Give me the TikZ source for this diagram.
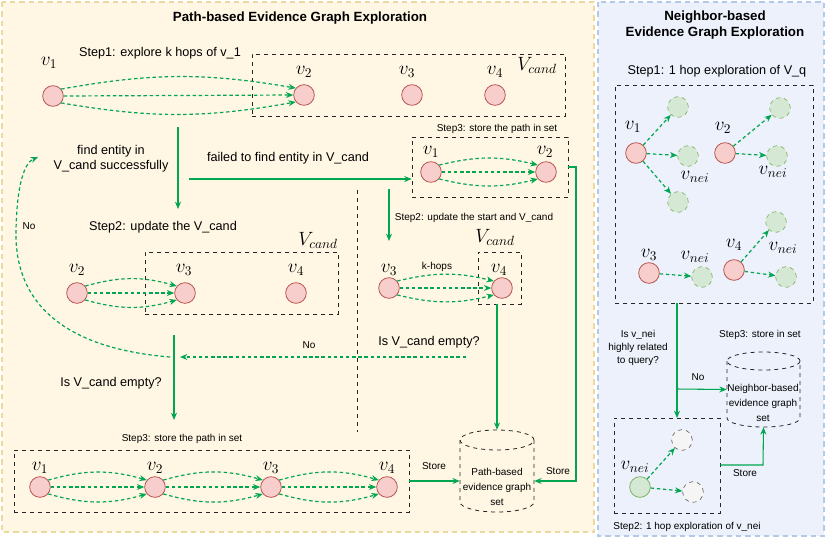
\documentclass[tikz,border=0pt]{standalone}
\usepackage{fontspec}
\setmainfont{Liberation Sans}
\usetikzlibrary{arrows.meta,fit}
\definecolor{gr}{HTML}{00A650}
\definecolor{redfill}{HTML}{F8CECC}
\definecolor{redline}{HTML}{B85450}
\definecolor{grfill}{HTML}{D5E8D4}
\definecolor{grline}{HTML}{82B366}
\definecolor{yfill}{HTML}{FFF7E3}
\definecolor{yline}{HTML}{EAD9A0}
\definecolor{bfill}{HTML}{ECF1FB}
\definecolor{bline}{HTML}{B4C8E8}
\newcommand\threearr[3]{%
  \draw[gdarr] (#1.40) to[bend left=#3] (#2.140);
  \draw[gdarr] (#1.east) -- (#2.west);
  \draw[gdarr] (#1.-40) to[bend right=#3] (#2.-140);}
\begin{document}
\begin{tikzpicture}[x=0.75pt,y=-0.75pt,
  rnode/.style={circle,fill=redfill,draw=redline,line width=0.6pt,minimum size=15.5pt,inner sep=0pt},
  gnode/.style={circle,fill=grfill,draw=grline,dashed,line width=0.5pt,minimum size=15.5pt,inner sep=0pt},
  gsnode/.style={circle,fill=grfill,draw=grline,line width=0.6pt,minimum size=15.5pt,inner sep=0pt},
  wnode/.style={circle,fill=black!4,draw=black!60,dashed,line width=0.5pt,minimum size=15.5pt,inner sep=0pt},
  dbox/.style={draw=black!85,dashed,line width=0.6pt,inner sep=0pt},
  garr/.style={-{Stealth[length=5.5pt,width=4.5pt]},draw=gr,line width=0.8pt},
  gdarr/.style={garr,line width=0.9pt,dash pattern=on 2.6pt off 2pt},
  mlbl/.style={font=\Large,inner sep=0pt},
  ttl/.style={font=\fontsize{10}{12}\selectfont\bfseries,align=center},
  txt/.style={font=\fontsize{9.5}{11.5}\selectfont,align=center},
  stxt/.style={font=\fontsize{7.5}{9}\selectfont,align=center},
  cylst/.style={draw=black!85,dashed,line width=0.6pt},
  anch/.style={inner sep=0pt}
]
\useasboundingbox (0,0) rectangle (831,544);
% panels
\draw[draw=yline,fill=yfill,line width=1.3pt,dash pattern=on 4pt off 3pt] (2,2) rectangle (594,532);
\draw[draw=bline,fill=bfill,line width=1.3pt,dash pattern=on 4pt off 3pt] (598,2) rectangle (824,536);

%%%%% LEFT PANEL
\node[ttl] (t1) at (300,18) {Path-based Evidence Graph Exploration};
\node[txt] (s1) at (160,53) {Step1: explore k hops of v\_1};
\node[dbox,fit={(252,54) (565,116)}] (cand1) {};
\node[mlbl] (vc1) at (537,65) {$V_{cand}$};
\node[rnode] (a1) at (53,96) {};
\node[rnode] (a2) at (304,95) {};
\node[rnode] (a3) at (412,95) {};
\node[rnode] (a4) at (495,95) {};
\node[mlbl] (la1) at (49,63) {$v_1$};
\node[mlbl] (la2) at (304,72) {$v_2$};
\node[mlbl] (la3) at (407,72) {$v_3$};
\node[mlbl] (la4) at (495,72) {$v_4$};
\threearr{a1}{a2}{10}

\coordinate (f1) at (178,127);
\coordinate (f2) at (178,209);
\draw[garr] (f1) -- (f2);
\node[txt] (findok) at (111,159) {find entity in\\V\_cand successfully};
\node[txt] (fail) at (288,158) {failed to find entity in V\_cand};

% store path (top right)
\node[stxt] (s3a) at (497,129) {Step3: store the path in set};
\node[dbox,fit={(412,137) (568,197)}] (st) {};
\node[rnode] (b1) at (431,172) {};
\node[rnode] (b2) at (546,172) {};
\node[mlbl] (lb1) at (431,152) {$v_1$};
\node[mlbl] (lb2) at (545,152) {$v_2$};
\threearr{b1}{b2}{14}
\coordinate (g1) at (189,179);
\draw[garr] (g1) -- (g1 -| st.west);

% dashed divider
\coordinate (dv1) at (357,190);
\coordinate (dv2) at (357,432);
\draw[black!85,dashed,line width=0.6pt] (dv1) -- (dv2);

% Step2 right
\node[stxt] (s2b) at (474,218) {Step2: update the start and V\_cand};
\coordinate (h1) at (389,189);
\coordinate (h2) at (389,241);
\draw[garr] (h1) -- (h2);
\node[mlbl] (vc3) at (495,237) {$V_{cand}$};
\node[dbox,fit={(478,252) (521,304)}] (c4box) {};
\node[rnode] (c3) at (389,288) {};
\node[rnode] (c4) at (502,288) {};
\node[mlbl] (lc3) at (389,270) {$v_3$};
\node[mlbl] (lc4) at (499,270) {$v_4$};
\node[stxt] (kh) at (437,267) {k-hops};
\threearr{c3}{c4}{14}

% cylinder (path-based)
\node[anch,fit={(460,430) (534,512)}] (pset) {};
\draw[cylst] (497,440) ellipse [x radius=27.75pt,y radius=7.5pt];
\draw[cylst] (460,440) -- (460,502) arc[start angle=180,end angle=360,x radius=27.75pt,y radius=7.5pt] -- (534,440);
\node[stxt] (psettxt) at (497,487) {Path-based\\[2pt]evidence graph\\[2pt]set};
\draw[garr] (c4box.south -| pset.north) -- (pset.north);

% store line from top right box
\coordinate (k1) at (576,167);
\coordinate (k2) at (576,481);
\draw[garr] (st.east) -- (k1) -- (k2) -- (k2 -| pset.east);
\node[stxt] (store2) at (558,471) {Store};

% Is V_cand empty (right)
\node[txt] (emp2) at (429,342) {Is V\_cand empty?};
\coordinate (n1) at (466,357);
\coordinate (n2) at (180,357);
\draw[gdarr] (n1) -- (n2);
\node[stxt] (no1) at (309,345) {No};

% back loop
\coordinate (m1) at (170,357);
\coordinate (m2) at (38,157);
\draw[gdarr] (m1) .. controls (60,348) and (14,300) .. (16,230) .. controls (17,185) and (24,163) .. (m2);
\node[stxt] (no2) at (29,226) {No};

% Step2 left
\node[txt] (s2a) at (163,227) {Step2: update the V\_cand};
\node[mlbl] (vc2) at (318,240) {$V_{cand}$};
\node[dbox,fit={(145,252) (338,314)}] (cand2) {};
\node[rnode] (d2) at (77,293) {};
\node[rnode] (d3) at (185,293) {};
\node[rnode] (d4) at (296,293) {};
\node[mlbl] (ld2) at (77,270) {$v_2$};
\node[mlbl] (ld3) at (184,270) {$v_3$};
\node[mlbl] (ld4) at (296,270) {$v_4$};
\threearr{d2}{d3}{16}

\coordinate (p1) at (174,335);
\coordinate (p2) at (174,420);
\draw[garr] (p1) -- (p2);
\node[txt] (emp1) at (111,383) {Is V\_cand empty?};

% bottom store
\node[stxt] (s3b) at (182,439) {Step3: store the path in set};
\node[dbox,fit={(14,450) (409,512)}] (full) {};
\node[rnode] (e1) at (40,487) {};
\node[rnode] (e2) at (155,487) {};
\node[rnode] (e3) at (271,487) {};
\node[rnode] (e4) at (387,487) {};
\node[mlbl] (le1) at (40,468) {$v_1$};
\node[mlbl] (le2) at (155,468) {$v_2$};
\node[mlbl] (le3) at (271,468) {$v_3$};
\node[mlbl] (le4) at (387,468) {$v_4$};
\threearr{e1}{e2}{16}
\threearr{e2}{e3}{16}
\threearr{e3}{e4}{16}
\draw[garr] (full.east) -- (full.east -| pset.west);
\node[stxt] (store1) at (434,466) {Store};

%%%%% RIGHT PANEL
\node[ttl] (t2) at (715,25) {Neighbor-based\\Evidence Graph Exploration};
\node[txt] (r1) at (717,71) {Step1: 1 hop exploration of V\_q};
\node[dbox,fit={(615,85) (813,303)}] (nb) {};
\node[rnode] (q1) at (636,153) {};
\node[gnode] (q1a) at (678,107) {};
\node[gnode] (q1b) at (688,156) {};
\node[gnode] (q1c) at (678,202) {};
\node[mlbl] (lq1) at (633,127) {$v_1$};
\node[mlbl] (lq1n) at (695,177) {$v_{nei}$};
\draw[gdarr] (q1) -- (q1a);
\draw[gdarr] (q1) -- (q1b);
\draw[gdarr] (q1) -- (q1c);
\node[rnode] (q2) at (725,153) {};
\node[gnode] (q2a) at (780,108) {};
\node[gnode] (q2b) at (777,156) {};
\node[mlbl] (lq2) at (723,128) {$v_2$};
\node[mlbl] (lq2n) at (773,172) {$v_{nei}$};
\draw[gdarr] (q2) -- (q2a);
\draw[gdarr] (q2) -- (q2b);
\node[rnode] (q3) at (649,273) {};
\node[gnode] (q3a) at (702,277) {};
\node[mlbl] (lq3) at (649,255) {$v_3$};
\node[mlbl] (lq3n) at (695,257) {$v_{nei}$};
\draw[gdarr] (q3) -- (q3a);
\node[rnode] (q4) at (734,270) {};
\node[gnode] (q4a) at (776,222) {};
\node[gnode] (q4b) at (786,277) {};
\node[mlbl] (lq4) at (734,245) {$v_4$};
\node[mlbl] (lq4n) at (783,248) {$v_{nei}$};
\draw[gdarr] (q4) -- (q4a);
\draw[gdarr] (q4) -- (q4b);

% neighbor-based cylinder
\node[anch,fit={(727,352) (800,427)}] (nset) {};
\draw[cylst] (763.5,361) ellipse [x radius=27.4pt,y radius=6.75pt];
\draw[cylst] (727,361) -- (727,418) arc[start angle=180,end angle=360,x radius=27.4pt,y radius=6.75pt] -- (800,361);
\node[stxt] (nsettxt) at (763,403) {Neighbor-based\\[2pt]evidence graph\\[2pt]set};
\node[stxt] (r3) at (760,335) {Step3: store in set};

% step2 box
\node[dbox,fit={(614,418) (720,513)}] (nb2) {};
\node[gsnode] (w0) at (640,487) {};
\node[wnode] (w1) at (682,440) {};
\node[wnode] (w2) at (693,492) {};
\node[mlbl] (lw0) at (635,467) {$v_{nei}$};
\draw[gdarr] (w0) -- (w1);
\draw[gdarr] (w0) -- (w2);
\node[stxt] (r2) at (687,527) {Step2: 1 hop exploration of v\_nei};

\coordinate (u1) at (677,303);
\coordinate (u2) at (677,418);
\draw[garr] (u1) -- (u2);
\coordinate (u3) at (677,389);
\draw[garr] (u3) -- (nset.west);
\node[stxt] (no3) at (698,377) {No};
\node[stxt] (rel) at (638,348) {Is v\_nei\\[1pt]highly related\\[1pt]to query?};

\coordinate (x1) at (763,465);
\draw[garr] (x1 -| nb2.east) -- (x1) -- (nset.south);
\node[stxt] (store3) at (745,473) {Store};
\end{tikzpicture}
\end{document}
